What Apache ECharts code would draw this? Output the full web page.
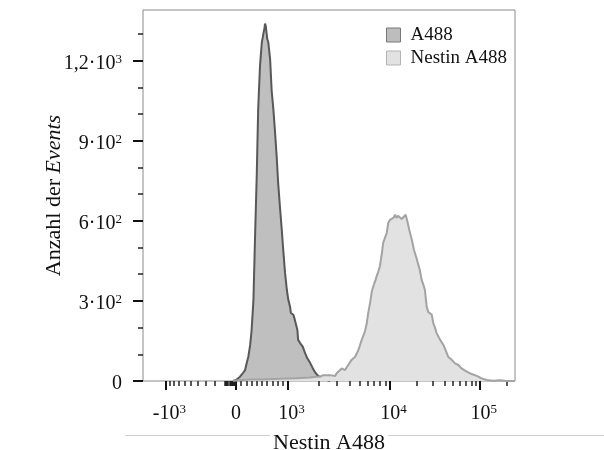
<!DOCTYPE html>
<html>
<head>
<meta charset="utf-8">
<script src="https://cdn.jsdelivr.net/npm/echarts@6/dist/echarts.min.js"></script>
<style>
  html, body { margin: 0; padding: 0; background: #fff; }
  #chart { width: 604px; height: 450px; }
</style>
</head>
<body>
<div id="chart"></div>
<script>
// Event counts per display channel (0–1024 biexponential channel scale)
const a488Channels = [248, 256, 267, 275, 281, 286, 290, 295, 299, 304, 308, 313, 317, 322, 327, 331, 334, 336, 338, 341, 342, 345, 350, 354, 359, 363, 368, 372, 377, 382, 386, 391, 396, 400, 405, 407, 414, 418, 425, 427, 432, 440, 446, 452, 460, 467, 473, 480, 487, 496, 506, 515];
const a488Counts = [0, 4, 16, 30, 41, 70, 91, 135, 191, 304, 517, 766, 1016, 1179, 1268, 1298, 1320, 1339, 1330, 1336, 1282, 1268, 1204, 1091, 1016, 941, 840, 743, 652, 566, 491, 405, 341, 304, 277, 255, 248, 229, 191, 154, 143, 128, 105, 86, 68, 49, 34, 22, 15, 8, 4, 0];

const nestinChannels = [248, 295, 330, 377, 423, 460, 478, 487, 496, 506, 515, 519, 529, 533, 538, 547, 556, 565, 574, 584, 593, 602, 611, 616, 620, 625, 630, 634, 639, 643, 648, 652, 657, 661, 666, 671, 675, 680, 685, 689, 694, 698, 702, 707, 712, 717, 723, 728, 733, 740, 746, 753, 758, 762, 767, 772, 776, 781, 785, 790, 795, 799, 804, 808, 818, 827, 831, 840, 850, 859, 868, 877, 891, 905, 919, 932, 946, 964, 983, 1001, 1024];
const nestinCounts = [1, 6, 6, 8, 10, 13, 16, 16, 22, 22, 22, 26, 19, 29, 35, 47, 41, 60, 79, 91, 116, 154, 186, 217, 255, 292, 336, 355, 374, 392, 411, 430, 473, 517, 536, 555, 592, 604, 597, 611, 623, 611, 619, 615, 607, 611, 623, 597, 566, 529, 491, 460, 435, 416, 379, 360, 341, 278, 259, 266, 248, 217, 199, 180, 154, 135, 122, 91, 79, 66, 60, 47, 35, 26, 19, 10, 4, 1, 3, 0, 0];

const seriesNames = ['A488', 'Nestin A488'];

// Labelled positions on the fluorescence axis
const xTickValues = [-1000, 0, 1000, 10000, 100000];
const xTickBase = ['-10', '0', '10', '10', '10'];
const xTickExp = ['3', '', '3', '4', '5'];

// Count axis
const yTickValues = [0, 300, 600, 900, 1200];
const yTickBase = ['0', '3·10', '6·10', '9·10', '1,2·10'];
const yTickExp = ['', '2', '2', '2', '3'];
const yMinorValues = [100, 200, 400, 500, 700, 800, 1000, 1100, 1300];
const yMax = 1390;

// Biexponential display transform: intensity -> channel
const BIEX = { channels: 1024, zero: 256, neg1e3: 63, pos1e3: 399, pos1e4: 680, pos1e5: 928, cofactor: 350 };
function toChannel(v) {
  if (v < 0) {
    return BIEX.zero - (BIEX.zero - BIEX.neg1e3) * Math.asinh(-v / BIEX.cofactor) / Math.asinh(1000 / BIEX.cofactor);
  }
  if (v <= 1000) return BIEX.zero + (BIEX.pos1e3 - BIEX.zero) * v / 1000;
  if (v <= 10000) return BIEX.pos1e3 + (BIEX.pos1e4 - BIEX.pos1e3) * Math.log10(v / 1000);
  return BIEX.pos1e4 + (BIEX.pos1e5 - BIEX.pos1e4) * Math.log10(v / 10000);
}

// Unlabelled intermediate ticks
const xMinorIntensities = [];
for (let m = 2; m <= 9; m++) xMinorIntensities.push(-100 * m);
for (let m = 1; m <= 10; m++) xMinorIntensities.push(-10 * m);
for (let m = 1; m <= 9; m++) xMinorIntensities.push(100 * m);
for (let m = 2; m <= 9; m++) xMinorIntensities.push(1000 * m, 10000 * m);
xMinorIntensities.push(200000);

const xMajorChannels = xTickValues.map(toChannel);
const xMinorChannels = xMinorIntensities.map(toChannel).filter(c => c > 0 && c < BIEX.channels);

const FONT = '"Liberation Serif", "Times New Roman", serif';
const INK = '#111';

const richNum = {
  b: { fontFamily: FONT, fontSize: 20, lineHeight: 22, color: INK },
  s: { fontFamily: FONT, fontSize: 13, lineHeight: 14, color: INK, verticalAlign: 'top' },
  g: { width: 7 }
};

function xLabel(value) {
  let i = xMajorChannels.findIndex(c => Math.abs(c - value) < 0.01);
  if (i < 0) return '';
  return xTickExp[i] ? `{g| }{b|${xTickBase[i]}}{s|${xTickExp[i]}}` : `{b|${xTickBase[i]}}`;
}
function yLabel(value) {
  let i = yTickValues.indexOf(value);
  if (i < 0) return '';
  return yTickExp[i] ? `{b|${yTickBase[i]}}{s|${yTickExp[i]}}` : `{b|${yTickBase[i]}}`;
}

const pairs = (xs, ys) => xs.map((x, i) => [x, ys[i]]);

const chart = echarts.init(document.getElementById('chart'), null, { renderer: 'canvas' });

const commonX = { type: 'value', min: 0, max: BIEX.channels, position: 'bottom', offset: 0,
  axisLine: { show: false, onZero: false }, splitLine: { show: false } };
const commonY = { type: 'value', min: 0, max: yMax, position: 'left', offset: 0,
  axisLine: { show: false }, splitLine: { show: false } };

chart.setOption({
  animation: false,
  backgroundColor: '#fff',
  grid: { left: 143, right: 89, top: 10, bottom: 69, containLabel: false, outerBoundsMode: 'none',
    show: true, borderColor: '#8a8a8a', borderWidth: 1, backgroundColor: 'transparent' },
  legend: {
    orient: 'vertical', left: 386, top: 24, padding: 0, itemGap: 1,
    itemWidth: 14, itemHeight: 14, icon: 'rect',
    textStyle: { fontFamily: FONT, fontSize: 19, lineHeight: 22, color: INK, padding: [0, 0, 0, 5] },
    data: [
      { name: seriesNames[0], itemStyle: { color: '#bdbdbd', borderColor: '#777', borderWidth: 1 } },
      { name: seriesNames[1], itemStyle: { color: '#e2e2e2', borderColor: '#b3b3b3', borderWidth: 1 } }
    ]
  },
  xAxis: [
    Object.assign({}, commonX, {
      name: 'Nestin A488', nameLocation: 'middle', nameGap: 49, nameMoveOverlap: false,
      nameTextStyle: { fontFamily: FONT, fontSize: 22, lineHeight: 26, color: INK, backgroundColor: '#fff', padding: [0, 3, 0, 3] },
      axisTick: { show: true, inside: false, length: 9, lineStyle: { color: INK, width: 2 }, customValues: xMajorChannels },
      axisLabel: { show: true, margin: 22, formatter: xLabel, rich: richNum, customValues: xMajorChannels }
    }),
    Object.assign({}, commonX, {
      axisTick: { show: true, inside: false, length: 5, lineStyle: { color: '#222', width: 1.5 }, customValues: xMinorChannels },
      axisLabel: { show: false }
    })
  ],
  yAxis: [
    Object.assign({}, commonY, {
      name: 'Anzahl der {i|Events}', nameLocation: 'middle', nameGap: 78, nameMoveOverlap: false,
      nameTextStyle: { fontFamily: FONT, fontSize: 22, color: INK,
        rich: { i: { fontFamily: FONT, fontSize: 22, fontStyle: 'italic', color: INK } } },
      axisTick: { show: true, inside: false, length: 10, lineStyle: { color: INK, width: 2 }, customValues: yTickValues },
      axisLabel: { show: true, margin: 21, padding: [6, 0, 0, 0], formatter: yLabel, rich: richNum, customValues: yTickValues }
    }),
    Object.assign({}, commonY, {
      axisTick: { show: true, inside: false, length: 5, lineStyle: { color: '#222', width: 1.5 }, customValues: yMinorValues },
      axisLabel: { show: false }
    })
  ],
  graphic: [
    { type: 'line', z: -1, shape: { x1: 125, y1: 435.5, x2: 604, y2: 435.5 }, style: { stroke: '#d0d0d0', lineWidth: 1 } }
  ],
  series: [
    {
      name: seriesNames[0], type: 'line', xAxisIndex: 0, yAxisIndex: 0, z: 2,
      data: pairs(a488Channels, a488Counts), showSymbol: false, symbol: 'none',
      color: '#585858',
      lineStyle: { color: '#585858', width: 2 },
      areaStyle: { color: '#bfbfbf', opacity: 1 }
    },
    {
      name: seriesNames[1], type: 'line', xAxisIndex: 0, yAxisIndex: 0, z: 3,
      data: pairs(nestinChannels, nestinCounts), showSymbol: false, symbol: 'none',
      color: '#a3a3a3',
      lineStyle: { color: '#a3a3a3', width: 2 },
      areaStyle: { color: '#e2e2e2', opacity: 1 }
    }
  ]
});
</script>
</body>
</html>
